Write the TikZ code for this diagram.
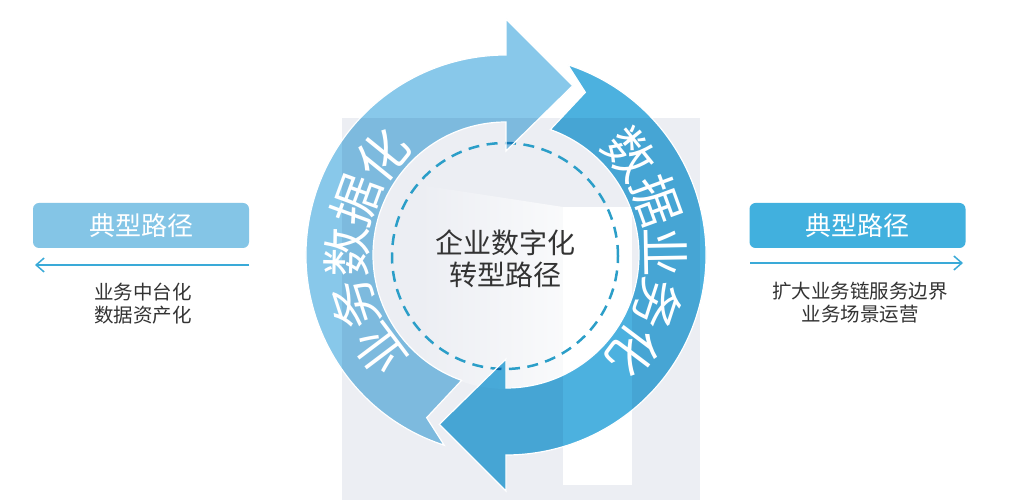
\documentclass[tikz,border=0pt]{standalone}
\usepackage{fontspec}
\setmainfont{Noto Sans CJK SC}
\usetikzlibrary{arrows.meta}
\definecolor{bggray}{HTML}{ECEEF3}
\definecolor{leftblue}{HTML}{88C8EA}
\definecolor{rightblue}{HTML}{4CB1DF}
\definecolor{dashblue}{HTML}{2B9EC8}
\definecolor{boxleft}{HTML}{84C5E6}
\definecolor{boxright}{HTML}{41B0DE}
\definecolor{linkblue}{HTML}{3AAAD8}
\definecolor{txtgray}{HTML}{333333}
\def\LArcPath{(-108:200) arc[start angle=-108,end angle=-270,radius=200] -- (90:236) -- (68.5:182) -- (90:104) -- (90:133) arc[start angle=90,end angle=250.5,radius=133] -- (-116:181) -- cycle}
\def\RArcPath{(72:200) arc[start angle=72,end angle=-90,radius=200] -- (-90:236) -- (-111.5:182) -- (-90:104) -- (-90:133) arc[start angle=-90,end angle=70.5,radius=133] -- (64:181) -- cycle}
\begin{document}
\begin{tikzpicture}[x=1pt,y=1pt,
  ringtext/.style={text=white, inner sep=0pt, font=\fontsize{50}{50}\selectfont},
  boxstyle/.style={rounded corners=6pt, minimum width=216pt, minimum height=45pt, inner sep=0pt, text=white, font=\fontsize{26}{26}\selectfont},
  pathtext/.style={text=txtgray, align=center, font=\fontsize{19.5}{23}\selectfont},
  linkarrow/.style={draw=linkblue, line width=1.5pt, -{Straight Barb[length=8pt,width=14pt]}},
  edge/.style={draw=white, line width=1.2pt},
]
\useasboundingbox (0,0) rectangle (1017,500);
\fill[white] (0,0) rectangle (1017,500);
% background mark
\fill[bggray] (342,0) rectangle (700,382);
\begin{scope}
  \clip (506,245) circle (134);
  \shade[left color=bggray, right color=bggray!30!white] (420,315) -- (563,293) -- (563,100) -- (420,100) -- cycle;
\end{scope}
\fill[white] (563,15) rectangle (632,293);
% dashed inner circle
\draw[dashblue, line width=2.5pt, dash pattern=on 11pt off 7.5pt] (505,244) circle (113);
% ring arrows
\begin{scope}[shift={(506,245)}]
  \begin{scope}[blend mode=multiply]
    \fill[leftblue] \LArcPath;
    \fill[rightblue] \RArcPath;
  \end{scope}
  \draw[edge] \LArcPath;
  \draw[edge] \RArcPath;
  \foreach \ch/\t [count=\i] in {业/233,务/252,数/271,据/290,化/309}
    \node[ringtext, rotate=-\t] (lt\i) at ({90-\t}:159) {\ch};
  \foreach \ch/\t [count=\i] in {数/51,据/70,业/89,务/108,化/127}
    \node[ringtext, rotate=-\t] (rt\i) at ({90-\t}:160) {\ch};
\end{scope}
% centre title
\node[font=\fontsize{28}{32}\selectfont, text=txtgray, align=center] (title) at (505,241) {企业数字化\\转型路径};
% left side
\node[boxstyle, fill=boxleft] (lbox) at (141,274.5) {典型路径};
\coordinate (la1) at (249,235);
\coordinate (la0) at (35,235);
\draw[linkarrow] (la1) -- (la0);
\node[pathtext] (ltxt) at (143,196) {业务中台化\\数据资产化};
% right side
\node[boxstyle, fill=boxright] (rbox) at (857.5,274.5) {典型路径};
\coordinate (ra0) at (750,237);
\coordinate (ra1) at (963,237);
\draw[linkarrow] (ra0) -- (ra1);
\node[pathtext] (rtxt) at (860,197) {扩大业务链服务边界\\业务场景运营};
\end{tikzpicture}
\end{document}
